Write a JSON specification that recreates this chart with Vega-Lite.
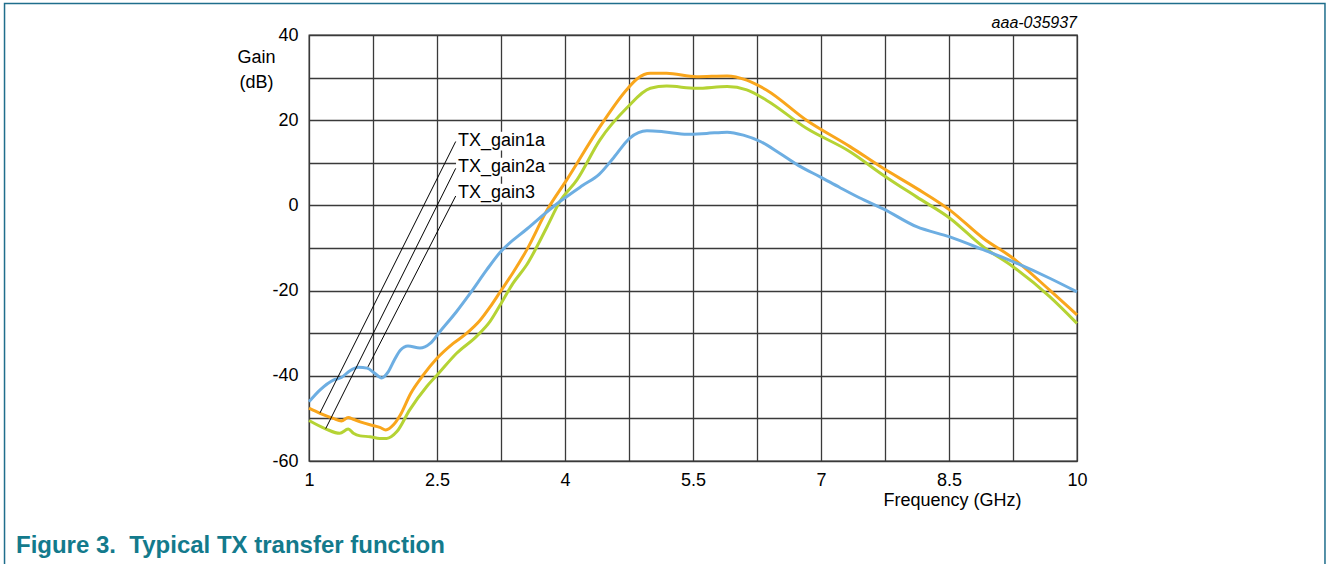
{
  "$schema": "https://vega.github.io/schema/vega-lite/v6.json",
  "width": 768,
  "height": 426,
  "autosize": {"type": "none"},
  "padding": {"left": 309, "top": 35, "right": 250, "bottom": 103},
  "background": "white",
  "config": {
    "view": {"stroke": "#333333", "strokeWidth": 1.3},
    "font": "Liberation Sans"
  },
  "datasets": {
    "curves": [
      {"series": "TX_gain1a", "f": 1.0, "g": -47.6},
      {"series": "TX_gain1a", "f": 1.13, "g": -48.8},
      {"series": "TX_gain1a", "f": 1.285, "g": -50.0},
      {"series": "TX_gain1a", "f": 1.38, "g": -50.6},
      {"series": "TX_gain1a", "f": 1.46, "g": -49.8},
      {"series": "TX_gain1a", "f": 1.52, "g": -50.2},
      {"series": "TX_gain1a", "f": 1.6, "g": -50.8},
      {"series": "TX_gain1a", "f": 1.715, "g": -51.5},
      {"series": "TX_gain1a", "f": 1.83, "g": -52.1},
      {"series": "TX_gain1a", "f": 1.9, "g": -52.7},
      {"series": "TX_gain1a", "f": 1.99, "g": -51.5},
      {"series": "TX_gain1a", "f": 2.07, "g": -49.2},
      {"series": "TX_gain1a", "f": 2.19, "g": -44.2},
      {"series": "TX_gain1a", "f": 2.34, "g": -39.8},
      {"series": "TX_gain1a", "f": 2.5, "g": -35.9},
      {"series": "TX_gain1a", "f": 2.69, "g": -32.4},
      {"series": "TX_gain1a", "f": 2.85, "g": -30.0},
      {"series": "TX_gain1a", "f": 3.0, "g": -27.1},
      {"series": "TX_gain1a", "f": 3.12, "g": -23.9},
      {"series": "TX_gain1a", "f": 3.24, "g": -20.3},
      {"series": "TX_gain1a", "f": 3.39, "g": -15.8},
      {"series": "TX_gain1a", "f": 3.55, "g": -10.5},
      {"series": "TX_gain1a", "f": 3.79, "g": -1.1},
      {"series": "TX_gain1a", "f": 4.02, "g": 6.0},
      {"series": "TX_gain1a", "f": 4.41, "g": 18.5},
      {"series": "TX_gain1a", "f": 4.72, "g": 27.1},
      {"series": "TX_gain1a", "f": 4.85, "g": 29.8},
      {"series": "TX_gain1a", "f": 5.0, "g": 31.0},
      {"series": "TX_gain1a", "f": 5.19, "g": 31.0},
      {"series": "TX_gain1a", "f": 5.54, "g": 30.2},
      {"series": "TX_gain1a", "f": 5.9, "g": 30.4},
      {"series": "TX_gain1a", "f": 6.13, "g": 29.4},
      {"series": "TX_gain1a", "f": 6.36, "g": 27.1},
      {"series": "TX_gain1a", "f": 6.83, "g": 20.0},
      {"series": "TX_gain1a", "f": 7.34, "g": 13.8},
      {"series": "TX_gain1a", "f": 7.73, "g": 8.7},
      {"series": "TX_gain1a", "f": 8.12, "g": 4.0},
      {"series": "TX_gain1a", "f": 8.51, "g": -1.1},
      {"series": "TX_gain1a", "f": 8.9, "g": -7.7},
      {"series": "TX_gain1a", "f": 9.25, "g": -12.4},
      {"series": "TX_gain1a", "f": 9.68, "g": -19.9},
      {"series": "TX_gain1a", "f": 10.0, "g": -25.7},

      {"series": "TX_gain2a", "f": 1.0, "g": -50.5},
      {"series": "TX_gain2a", "f": 1.2, "g": -52.5},
      {"series": "TX_gain2a", "f": 1.36, "g": -53.5},
      {"series": "TX_gain2a", "f": 1.46, "g": -52.5},
      {"series": "TX_gain2a", "f": 1.52, "g": -53.5},
      {"series": "TX_gain2a", "f": 1.6, "g": -54.1},
      {"series": "TX_gain2a", "f": 1.715, "g": -54.3},
      {"series": "TX_gain2a", "f": 1.83, "g": -54.7},
      {"series": "TX_gain2a", "f": 1.91, "g": -54.7},
      {"series": "TX_gain2a", "f": 2.03, "g": -53.1},
      {"series": "TX_gain2a", "f": 2.18, "g": -48.0},
      {"series": "TX_gain2a", "f": 2.38, "g": -42.5},
      {"series": "TX_gain2a", "f": 2.52, "g": -39.4},
      {"series": "TX_gain2a", "f": 2.73, "g": -34.7},
      {"series": "TX_gain2a", "f": 2.96, "g": -30.8},
      {"series": "TX_gain2a", "f": 3.12, "g": -27.3},
      {"series": "TX_gain2a", "f": 3.24, "g": -23.4},
      {"series": "TX_gain2a", "f": 3.39, "g": -18.3},
      {"series": "TX_gain2a", "f": 3.55, "g": -14.0},
      {"series": "TX_gain2a", "f": 3.79, "g": -5.0},
      {"series": "TX_gain2a", "f": 3.94, "g": 0.9},
      {"series": "TX_gain2a", "f": 4.14, "g": 6.0},
      {"series": "TX_gain2a", "f": 4.41, "g": 15.4},
      {"series": "TX_gain2a", "f": 4.72, "g": 22.8},
      {"series": "TX_gain2a", "f": 5.0, "g": 27.5},
      {"series": "TX_gain2a", "f": 5.19, "g": 28.0},
      {"series": "TX_gain2a", "f": 5.54, "g": 27.5},
      {"series": "TX_gain2a", "f": 5.9, "g": 27.9},
      {"series": "TX_gain2a", "f": 6.13, "g": 27.1},
      {"series": "TX_gain2a", "f": 6.36, "g": 24.7},
      {"series": "TX_gain2a", "f": 6.83, "g": 18.1},
      {"series": "TX_gain2a", "f": 7.34, "g": 12.6},
      {"series": "TX_gain2a", "f": 7.73, "g": 7.1},
      {"series": "TX_gain2a", "f": 8.12, "g": 2.0},
      {"series": "TX_gain2a", "f": 8.51, "g": -3.0},
      {"series": "TX_gain2a", "f": 8.9, "g": -9.7},
      {"series": "TX_gain2a", "f": 9.25, "g": -14.4},
      {"series": "TX_gain2a", "f": 9.68, "g": -21.4},
      {"series": "TX_gain2a", "f": 10.0, "g": -27.7},

      {"series": "TX_gain3", "f": 1.0, "g": -46.1},
      {"series": "TX_gain3", "f": 1.13, "g": -43.3},
      {"series": "TX_gain3", "f": 1.285, "g": -41.0},
      {"series": "TX_gain3", "f": 1.38, "g": -40.4},
      {"series": "TX_gain3", "f": 1.48, "g": -38.8},
      {"series": "TX_gain3", "f": 1.58, "g": -38.0},
      {"series": "TX_gain3", "f": 1.68, "g": -38.2},
      {"series": "TX_gain3", "f": 1.77, "g": -39.4},
      {"series": "TX_gain3", "f": 1.85, "g": -40.5},
      {"series": "TX_gain3", "f": 1.93, "g": -39.0},
      {"series": "TX_gain3", "f": 2.0, "g": -36.3},
      {"series": "TX_gain3", "f": 2.07, "g": -34.0},
      {"series": "TX_gain3", "f": 2.16, "g": -33.0},
      {"series": "TX_gain3", "f": 2.3, "g": -33.5},
      {"series": "TX_gain3", "f": 2.42, "g": -32.4},
      {"series": "TX_gain3", "f": 2.535, "g": -29.6},
      {"series": "TX_gain3", "f": 2.73, "g": -24.9},
      {"series": "TX_gain3", "f": 2.89, "g": -20.6},
      {"series": "TX_gain3", "f": 3.08, "g": -15.2},
      {"series": "TX_gain3", "f": 3.24, "g": -11.0},
      {"series": "TX_gain3", "f": 3.55, "g": -5.6},
      {"series": "TX_gain3", "f": 3.94, "g": 0.9},
      {"series": "TX_gain3", "f": 4.2, "g": 4.6},
      {"series": "TX_gain3", "f": 4.4, "g": 7.3},
      {"series": "TX_gain3", "f": 4.57, "g": 11.2},
      {"series": "TX_gain3", "f": 4.76, "g": 15.8},
      {"series": "TX_gain3", "f": 4.96, "g": 17.5},
      {"series": "TX_gain3", "f": 5.15, "g": 17.3},
      {"series": "TX_gain3", "f": 5.43, "g": 16.7},
      {"series": "TX_gain3", "f": 5.66, "g": 16.9},
      {"series": "TX_gain3", "f": 5.9, "g": 17.2},
      {"series": "TX_gain3", "f": 6.09, "g": 16.5},
      {"series": "TX_gain3", "f": 6.29, "g": 15.0},
      {"series": "TX_gain3", "f": 6.52, "g": 12.2},
      {"series": "TX_gain3", "f": 6.76, "g": 9.1},
      {"series": "TX_gain3", "f": 6.99, "g": 6.7},
      {"series": "TX_gain3", "f": 7.22, "g": 4.2},
      {"series": "TX_gain3", "f": 7.45, "g": 1.8},
      {"series": "TX_gain3", "f": 7.73, "g": -0.8},
      {"series": "TX_gain3", "f": 8.12, "g": -5.0},
      {"series": "TX_gain3", "f": 8.51, "g": -7.4},
      {"series": "TX_gain3", "f": 8.9, "g": -10.4},
      {"series": "TX_gain3", "f": 9.25, "g": -13.2},
      {"series": "TX_gain3", "f": 9.68, "g": -17.1},
      {"series": "TX_gain3", "f": 10.0, "g": -20.3}
    ],
    "labels": [
      {"label": "TX_gain1a", "f": 2.746, "g": 15.1, "bf": 2.723, "bf2": 3.81, "bg": 17.3, "bg2": 12.9, "lf": 2.719, "lg": 15.0, "lf2": 1.129, "lg2": -48.7},
      {"label": "TX_gain2a", "f": 2.746, "g": 9.0, "bf": 2.723, "bf2": 3.81, "bg": 11.2, "bg2": 6.8, "lf": 2.719, "lg": 8.7, "lf2": 1.196, "lg2": -52.4},
      {"label": "TX_gain3", "f": 2.746, "g": 2.9, "bf": 2.723, "bf2": 3.81, "bg": 5.1, "bg2": 0.7, "lf": 2.719, "lg": 2.2, "lf2": 1.691, "lg2": -37.9}
    ]
  },
  "layer": [
    {
      "data": {"values": [{}]},
      "mark": {"type": "rect", "filled": false, "fill": null, "stroke": "#1F6E8C", "strokeWidth": 1.5, "clip": false},
      "encoding": {
        "x": {"datum": -2.568, "type": "quantitative", "scale": {"domain": [1, 10], "nice": false, "zero": false}},
        "x2": {"datum": 12.906},
        "y": {"datum": 47.39, "type": "quantitative", "scale": {"domain": [-60, 40], "nice": false, "zero": false}},
        "y2": {"datum": -95}
      }
    },
    {
      "data": {"name": "curves"},
      "mark": {"type": "line", "strokeWidth": 3, "interpolate": "monotone"},
      "encoding": {
        "x": {
          "field": "f", "type": "quantitative",
          "scale": {"domain": [1, 10], "nice": false, "zero": false},
          "axis": {
            "values": [1, 1.75, 2.5, 3.25, 4, 4.75, 5.5, 6.25, 7, 7.75, 8.5, 9.25, 10],
            "labelExpr": "indexof([1, 2.5, 4, 5.5, 7, 8.5, 10], datum.value) >= 0 ? toString(datum.value) : ''",
            "grid": true, "gridColor": "#3a3a3a", "gridWidth": 1.3,
            "domain": false, "ticks": false,
            "labelFontSize": 18, "labelColor": "#000000", "labelPadding": 10,
            "labelFont": "Liberation Sans", "labelFlush": false,
            "title": "Frequency (GHz)", "titleFontSize": 18, "titleFontWeight": "normal",
            "titleColor": "#000000", "titleFont": "Liberation Sans",
            "titleX": 643, "titleY": 44, "titleBaseline": "alphabetic", "titleAlign": "center"
          }
        },
        "y": {
          "field": "g", "type": "quantitative",
          "scale": {"domain": [-60, 40], "nice": false, "zero": false},
          "axis": {
            "values": [-60, -50, -40, -30, -20, -10, 0, 10, 20, 30, 40],
            "labelExpr": "datum.value % 20 == 0 ? toString(datum.value) : ''",
            "grid": true, "gridColor": "#3a3a3a", "gridWidth": 1.3,
            "domain": false, "ticks": false,
            "labelFontSize": 18, "labelColor": "#000000", "labelPadding": 11,
            "labelFont": "Liberation Sans", "labelFlush": false,
            "title": ["Gain", "(dB)"], "titleFontSize": 18, "titleFontWeight": "normal",
            "titleColor": "#000000", "titleFont": "Liberation Sans",
            "titleAngle": 0, "titleX": -53, "titleY": 22, "titleAlign": "center",
            "titleBaseline": "middle", "titleLineHeight": 25
          }
        },
        "color": {
          "field": "series", "type": "nominal",
          "scale": {"domain": ["TX_gain1a", "TX_gain2a", "TX_gain3"], "range": ["#F9A61C", "#B5D334", "#6DAEE2"]},
          "legend": null
        }
      }
    },
    {
      "data": {"name": "labels"},
      "mark": {"type": "rect", "fill": "white", "stroke": null},
      "encoding": {
        "x": {"field": "bf", "type": "quantitative"},
        "x2": {"field": "bf2"},
        "y": {"field": "bg", "type": "quantitative"},
        "y2": {"field": "bg2"}
      }
    },
    {
      "data": {"name": "labels"},
      "mark": {"type": "rule", "color": "#000000", "strokeWidth": 1},
      "encoding": {
        "x": {"field": "lf", "type": "quantitative"},
        "x2": {"field": "lf2"},
        "y": {"field": "lg", "type": "quantitative"},
        "y2": {"field": "lg2"}
      }
    },
    {
      "data": {"name": "labels"},
      "mark": {"type": "text", "align": "left", "baseline": "middle", "fontSize": 18, "font": "Liberation Sans", "color": "#000000"},
      "encoding": {
        "x": {"field": "f", "type": "quantitative"},
        "y": {"field": "g", "type": "quantitative"},
        "text": {"field": "label"}
      }
    },
    {
      "data": {"values": [{}]},
      "mark": {"type": "text", "align": "right", "baseline": "alphabetic", "fontSize": 16, "fontStyle": "italic", "font": "Liberation Sans", "color": "#000000", "clip": false},
      "encoding": {
        "x": {"datum": 10, "type": "quantitative"},
        "y": {"datum": 41.64, "type": "quantitative"},
        "text": {"value": "aaa-035937"}
      }
    },
    {
      "data": {"values": [{}]},
      "mark": {"type": "text", "align": "left", "baseline": "alphabetic", "fontSize": 24, "fontWeight": "bold", "font": "Liberation Sans", "color": "#137A8C", "clip": false},
      "encoding": {
        "x": {"datum": -2.434, "type": "quantitative"},
        "y": {"datum": -81.6, "type": "quantitative"},
        "text": {"value": "Figure 3.\u00a0 Typical TX transfer function"}
      }
    }
  ]
}
